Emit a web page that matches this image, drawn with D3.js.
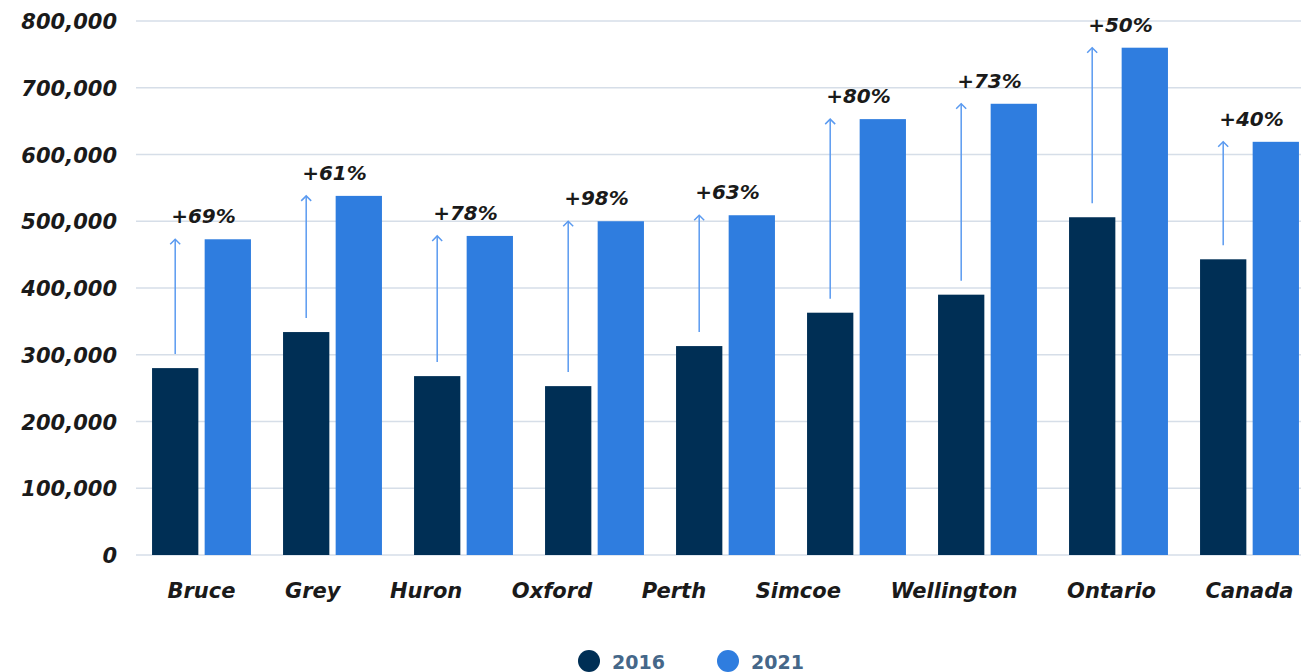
<!DOCTYPE html>
<html>
<head>
<meta charset="utf-8">
<script src="https://cdn.jsdelivr.net/npm/d3@7"></script>
<style>
  html, body { margin: 0; padding: 0; background: #fff; }
  svg { display: block; }
</style>
</head>
<body>
<svg id="chart" width="1301" height="672"></svg>
<script>
const categories = ["Bruce", "Grey", "Huron", "Oxford", "Perth", "Simcoe", "Wellington", "Ontario", "Canada"];
const series = ["2016", "2021"];
const values2016 = [280000, 334000, 268000, 253000, 313000, 363000, 390000, 506000, 443000];
const values2021 = [473000, 538000, 478000, 500000, 509000, 653000, 676000, 760000, 619000];
const changeLabels = ["+69%", "+61%", "+78%", "+98%", "+63%", "+80%", "+73%", "+50%", "+40%"];
const yTicks = [0, 100000, 200000, 300000, 400000, 500000, 600000, 700000, 800000];

const colors = { "2016": "#002f55", "2021": "#2f7ddf" };
const svg = d3.select("#chart");

const x0 = d3.scaleBand().domain(categories).range([136, 1315]).paddingInner(0.245).paddingOuter(0.1225);
const x1 = d3.scaleBand().domain(series).range([0, x0.bandwidth()]).paddingInner(0.12);
const y = d3.scaleLinear().domain([0, 800000]).range([555, 21]);

// gridlines
svg.append("g").selectAll("line").data(yTicks).join("line")
  .attr("x1", 136).attr("x2", 1301)
  .attr("y1", d => y(d)).attr("y2", d => y(d))
  .attr("stroke", "#d6dee8").attr("stroke-width", 1.5);

// y axis labels
const fmt = d3.format(",");
const yAxis = d3.axisLeft(y).tickValues(yTicks).tickFormat(d => fmt(d)).tickSize(0).tickPadding(0);
const yG = svg.append("g").attr("transform", "translate(117,0)").call(yAxis);
yG.select(".domain").remove();
yG.selectAll("text")
  .attr("font-family", "DejaVu Sans").attr("font-weight", "bold").attr("font-style", "italic")
  .attr("font-size", 21).attr("fill", "#1a1a1a").attr("dy", "0.36em");

const data = categories.map((c, i) => ({ cat: c, "2016": values2016[i], "2021": values2021[i], label: changeLabels[i] }));

// bars
const groups = svg.append("g").selectAll("g").data(data).join("g")
  .attr("transform", d => `translate(${x0(d.cat)},0)`);
groups.selectAll("rect").data(d => series.map(s => ({ s, v: d[s] }))).join("rect")
  .attr("x", d => x1(d.s)).attr("width", x1.bandwidth())
  .attr("y", d => y(d.v)).attr("height", d => y(0) - y(d.v))
  .attr("fill", d => colors[d.s]);

// arrows
const arrowColor = "#5a9af0";
groups.each(function(d) {
  const g = d3.select(this);
  const ax = x1("2016") + x1.bandwidth() / 2;
  const yTop = y(d["2021"]);
  const yBot = y(d["2016"]) - 14;
  g.append("line").attr("x1", ax).attr("x2", ax).attr("y1", yTop).attr("y2", yBot)
    .attr("stroke", arrowColor).attr("stroke-width", 1.5);
  g.append("path").attr("d", `M${ax - 5},${yTop + 5} L${ax},${yTop} L${ax + 5},${yTop + 5}`)
    .attr("fill", "none").attr("stroke", arrowColor).attr("stroke-width", 1.5);
  g.append("text").attr("x", x0.bandwidth() / 2 + 2).attr("y", yTop - 16)
    .attr("text-anchor", "middle")
    .attr("font-family", "DejaVu Sans").attr("font-weight", "bold").attr("font-style", "italic")
    .attr("font-size", 20).attr("fill", "#1a1a1a")
    .text(d.label);
});

// x axis labels: first/last centred on their groups, equal gaps between labels
const xG = svg.append("g");
const xLabels = xG.selectAll("text").data(categories).join("text")
  .attr("y", 598)
  .attr("font-family", "DejaVu Sans").attr("font-weight", "bold").attr("font-style", "italic")
  .attr("font-size", 21).attr("fill", "#1a1a1a")
  .text(d => d);
const widths = [];
xLabels.each(function() { widths.push(this.getComputedTextLength()); });
const n = categories.length;
const startX = x0(categories[0]) + x0.bandwidth() / 2 - widths[0] / 2;
const endX = x0(categories[n - 1]) + x0.bandwidth() / 2 + widths[n - 1] / 2;
const gap = (endX - startX - d3.sum(widths)) / (n - 1);
let cur = startX;
const lx = widths.map(w => { const p = cur; cur += w + gap; return p; });
xLabels.attr("x", (d, i) => lx[i]);

// legend
const legendX = { "2016": 589, "2021": 728 };
const lg = svg.append("g");
series.forEach(s => {
  lg.append("circle").attr("cx", legendX[s]).attr("cy", 661).attr("r", 11).attr("fill", colors[s]);
  lg.append("text").attr("x", legendX[s] + 23).attr("y", 669)
    .attr("font-family", "DejaVu Sans").attr("font-weight", "bold")
    .attr("font-size", 19).attr("fill", "#456789").text(s);
});
</script>
</body>
</html>
